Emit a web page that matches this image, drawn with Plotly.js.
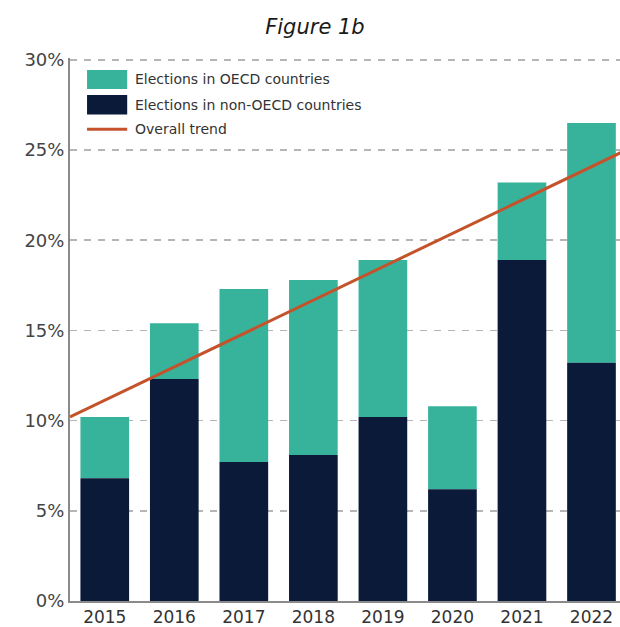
<!DOCTYPE html>
<html>
<head>
<meta charset="utf-8">
<script src="https://cdn.plot.ly/plotly-3.0.1.min.js"></script>
<style>html,body{margin:0;padding:0;background:#fff;}#chart{width:620px;height:627px;}</style>
</head>
<body>
<div id="chart"></div>
<script>
const years = [2015, 2016, 2017, 2018, 2019, 2020, 2021, 2022];
const nonOecd = [6.8, 12.3, 7.7, 8.1, 10.2, 6.2, 18.9, 13.2];
const totals = [10.2, 15.4, 17.3, 17.8, 18.9, 10.8, 23.2, 26.5];
const oecd = totals.map((t, i) => +(t - nonOecd[i]).toFixed(2));
const trendYears = [2014.5, 2022.5];
const trendValues = [10.2, 25.0];
const yTickVals = [0, 5, 10, 15, 20, 25, 30];
const yTickText = ['0%', '5%', '10%', '15%', '20%', '25%', '30%'];
const seriesNames = ['Elections in OECD countries', 'Elections in non-OECD countries', 'Overall trend'];
const seriesColors = ['#37b39c', '#0b1a38', '#c4532c'];

const traces = [
  {
    type: 'bar', name: seriesNames[0],
    x: years, y: oecd, base: nonOecd,
    marker: {color: seriesColors[0]}, width: 0.7
  },
  {
    type: 'bar', name: seriesNames[1],
    x: years, y: nonOecd,
    marker: {color: seriesColors[1]}, width: 0.7
  },
  {
    type: 'scatter', mode: 'lines', name: seriesNames[2],
    x: trendYears, y: trendValues,
    line: {color: seriesColors[2], width: 3}
  }
];

// Custom legend (large swatches like the reference)
const legX0 = 0.031, legX1 = 0.104, legTextX = 0.114;
const legRows = [
  {y0: 0.943, y1: 0.978, kind: 'rect'},
  {y0: 0.896, y1: 0.932, kind: 'rect'},
  {y0: 0.869, y1: 0.869, kind: 'line'}
];
const shapes = [];
const annotations = [];
legRows.forEach((r, i) => {
  if (r.kind === 'rect') {
    shapes.push({type: 'rect', xref: 'paper', yref: 'paper', x0: legX0, x1: legX1, y0: r.y0, y1: r.y1,
      fillcolor: seriesColors[i], line: {width: 0}});
  } else {
    shapes.push({type: 'line', xref: 'paper', yref: 'paper', x0: legX0, x1: legX1, y0: r.y0, y1: r.y1,
      line: {color: seriesColors[i], width: 3}});
  }
  annotations.push({xref: 'paper', yref: 'paper', x: legTextX, y: (r.y0 + r.y1) / 2,
    xanchor: 'left', yanchor: 'middle', showarrow: false, text: seriesNames[i],
    font: {family: '"DejaVu Sans", sans-serif', size: 14, color: '#333'}});
});

const layout = {
  width: 620, height: 627,
  margin: {l: 70, r: 0, t: 58, b: 26},
  paper_bgcolor: '#fff', plot_bgcolor: '#fff',
  barmode: 'overlay',
  showlegend: false,
  shapes: shapes,
  annotations: annotations,
  title: {
    text: '<i>Figure 1b</i>',
    x: 0.508, xanchor: 'center', y: 0.957, yanchor: 'middle',
    font: {family: '"DejaVu Sans", sans-serif', size: 21, color: '#1a1a1a'}
  },
  xaxis: {
    range: [2014.5, 2022.41],
    tickvals: years, ticktext: years.map(String),
    showgrid: false, zeroline: false,
    showline: true, linecolor: '#8a8a8a', linewidth: 2,
    ticks: '',
    tickfont: {family: '"DejaVu Sans", sans-serif', size: 17, color: '#333'},
    fixedrange: true
  },
  yaxis: {
    range: [0, 30.1],
    tickvals: yTickVals, ticktext: yTickText,
    showgrid: true, gridcolor: '#b5b5b5', gridwidth: 1.5, griddash: '7px,7px',
    zeroline: false,
    showline: true, linecolor: '#8a8a8a', linewidth: 2,
    ticks: '',
    tickfont: {family: '"DejaVu Sans", sans-serif', size: 18, color: '#444'},
    fixedrange: true
  }
};

Plotly.newPlot('chart', traces, layout, {displayModeBar: false, staticPlot: true});
</script>
</body>
</html>
